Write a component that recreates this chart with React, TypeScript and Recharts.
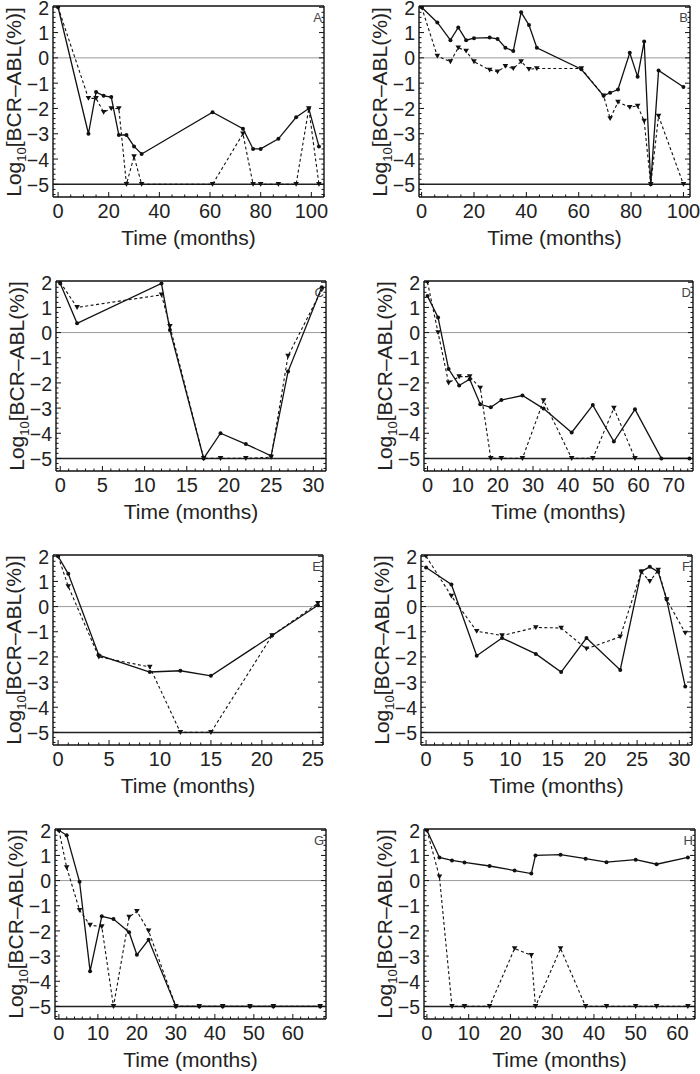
import React from "react";
import { LineChart, Line, XAxis, YAxis, ReferenceLine } from "recharts";

const FONT = "'Liberation Sans', Arial, Helvetica, sans-serif";

// shared y axis
const yDomain: [number, number] = [-5.5, 2.05];
const yLabels = [-5, -4, -3, -2, -1, 0, 1, 2];
const zeroLine = 0;
const floorLine = -5;

// A
const aMonths = [0, 12, 15, 18, 21, 24, 27, 30, 33, 61, 73, 77, 80, 87, 94, 99, 103];
const aSolid = [2, -3.0, -1.35, -1.5, -1.55, -3.05, -3.05, -3.5, -3.8, -2.15, -2.8, -3.6, -3.6, -3.2, -2.35, -2.0, -3.5];
const aDashed = [2, -1.6, -1.6, -2.15, -2.0, -2.0, -5, -3.9, -5, -5, -3.0, -5, -5, -5, -5, -2.0, -5];

// B
const bMonths = [0, 6, 11, 14, 17, 20, 26, 29, 32, 35, 38, 41, 44, 61, 69.5, 72, 75, 79.5, 82.5, 85, 87.5, 90.5, 100];
const bSolid = [2, 1.4, 0.7, 1.2, 0.7, 0.78, 0.8, 0.75, 0.4, 0.27, 1.8, 1.3, 0.4, -0.45, -1.5, -1.38, -1.25, 0.2, -0.75, 0.65, -5, -0.5, -1.15];
const bDashed = [2, 0.07, -0.15, 0.4, 0.27, -0.15, -0.48, -0.55, -0.33, -0.42, -0.15, -0.45, -0.42, -0.42, -1.5, -2.4, -1.75, -1.95, -1.9, -2.5, -5, -2.3, -5];

// C
const cMonths = [0, 2, 12, 13, 17, 19, 22, 25, 27, 31];
const cSolid = [1.95, 0.37, 1.95, 0.1, -5, -4.0, -4.43, -4.9, -1.55, 1.8];
const cDashed = [2, 1.0, 1.5, 0.25, -5, -5, -5, -4.95, -0.93, 1.7];

// D
const dMonths = [0, 3, 6, 9, 12, 15, 18, 21, 27, 33, 41, 47, 53, 59, 66.5, 74.5];
const dSolid = [1.45, 0.6, -1.45, -2.1, -1.85, -2.85, -2.97, -2.68, -2.5, -3.02, -3.97, -2.88, -4.33, -3.05, -5, -5];
const dDashedMonths = [0, 3, 6, 9, 12, 15, 18, 21, 27, 33, 41, 47, 53, 59];
const dDashed = [2, 0, -2, -1.75, -1.75, -2.2, -5, -5, -5, -2.7, -5, -5, -3.0, -5];

// E
const eMonths = [0, 1, 4, 9, 12, 15, 21, 25.5];
const eSolid = [2, 1.3, -1.93, -2.6, -2.55, -2.75, -1.15, 0.05];
const eDashed = [2, 0.8, -2.0, -2.4, -5, -5, -1.15, 0.13];

// F
const fMonths = [0, 3, 6, 9, 13, 16, 19, 23, 25.5, 26.5, 27.5, 28.5, 30.7];
const fSolid = [1.55, 0.88, -1.95, -1.25, -1.88, -2.6, -1.25, -2.52, 1.4, 1.58, 1.38, 0.28, -3.18];
const fDashed = [2, 0.42, -0.98, -1.15, -0.83, -0.85, -1.68, -1.2, 1.38, 1.0, 1.45, 0.28, -1.05];

// G
const gMonths = [0, 2, 5.3, 8, 11, 14, 18, 20, 23, 30, 36, 42, 49, 55, 67];
const gSolid = [2, 1.8, -0.05, -3.6, -1.42, -1.53, -2.05, -2.95, -2.35, -5, -5, -5, -5, -5, -5];
const gDashed = [2, 0.52, -1.18, -1.77, -1.83, -5, -1.45, -1.22, -2.0, -5, -5, -5, -5, -5, -5];

// H
const hMonths = [0, 3, 6, 9, 15, 21, 25, 26, 32, 38, 43, 50, 55, 62.5];
const hSolid = [2, 0.92, 0.8, 0.72, 0.58, 0.4, 0.28, 1.0, 1.03, 0.87, 0.73, 0.83, 0.65, 0.92];
const hDashed = [2, 0.15, -5, -5, -5, -2.7, -2.97, -5, -2.7, -5, -5, -5, -5, -5];

const ticks20 = [0, 20, 40, 60, 80, 100];
const ticks5_25 = [0, 5, 10, 15, 20, 25];
const ticks5_30 = [0, 5, 10, 15, 20, 25, 30];
const ticks10_60 = [0, 10, 20, 30, 40, 50, 60];
const ticks10_70 = [0, 10, 20, 30, 40, 50, 60, 70];

const isMajor = (majors: number[], v: number) => majors.some((m) => Math.abs(m - v) < 1e-6);

function stepTicks(domain: [number, number], step: number) {
  const out: number[] = [];
  const start = Math.ceil(domain[0] / step);
  const end = Math.floor(domain[1] / step);
  for (let i = start; i <= end; i++) out.push(Math.round(i * step * 1000) / 1000);
  return out;
}

const fmt = (v: number) => (v < 0 ? "\u2212" + Math.abs(v) : String(v));

const leftTick = (majors: number[]) => (p: any) => {
  const v = p.payload.value;
  const big = isMajor(majors, v);
  const ax = p.x + 4;
  return (
    <g>
      <line x1={ax} x2={ax + (big ? 5 : 2.5)} y1={p.y} y2={p.y} stroke="#111" strokeWidth={1} />
      {big && (
        <text x={p.x} y={p.y + 0.6} dy="0.36em" textAnchor="end" fontSize={19.5} fontFamily={FONT} fill="#222">
          {fmt(v)}
        </text>
      )}
    </g>
  );
};

const rightTick = (majors: number[]) => (p: any) => {
  const big = isMajor(majors, p.payload.value);
  return <line x1={p.x} x2={p.x - (big ? 5 : 2.5)} y1={p.y} y2={p.y} stroke="#111" strokeWidth={1} />;
};

const bottomTick = (majors: number[]) => (p: any) => {
  const v = p.payload.value;
  const big = isMajor(majors, v);
  const ay = p.y - 3;
  return (
    <g>
      <line x1={p.x} x2={p.x} y1={ay} y2={ay - (big ? 5 : 2.5)} stroke="#111" strokeWidth={1} />
      {big && (
        <text x={p.x} y={p.y} dy="0.88em" textAnchor="middle" fontSize={20} fontFamily={FONT} fill="#222">
          {fmt(v)}
        </text>
      )}
    </g>
  );
};

const topTick = (majors: number[]) => (p: any) => {
  const big = isMajor(majors, p.payload.value);
  return <line x1={p.x} x2={p.x} y1={p.y} y2={p.y + (big ? 5 : 2.5)} stroke="#111" strokeWidth={1} />;
};

const Tri = (p: any) => {
  if (p.cx == null || p.cy == null) return null;
  const { cx, cy } = p;
  return <path d={`M${cx - 2.8},${cy - 2.3}L${cx + 2.8},${cy - 2.3}L${cx},${cy + 2.5}Z`} fill="#111" />;
};

type PanelProps = {
  letter: string;
  months: number[];
  solid: number[];
  dashedMonths: number[];
  dashed: number[];
  xDomain: [number, number];
  xMajor: number[];
  xMinorStep: number;
  box: [number, number, number, number];
};

function Panel(p: PanelProps) {
  const [L, T, W, H] = p.box;
  const padL = 60;
  const padR = 16;
  const padT = 12;
  const padB = 30;
  const solidData = p.months.map((m, i) => ({ x: m, y: p.solid[i] }));
  const dashedData = p.dashedMonths.map((m, i) => ({ x: m, y: p.dashed[i] }));
  const xTicks = stepTicks(p.xDomain, p.xMinorStep);
  const yTicks = stepTicks([-5.4, 2], 0.2);
  const axisLine = { stroke: "#111", strokeWidth: 1.4 };
  return (
    <>
      <div style={{ position: "absolute", left: L - padL, top: T - padT }}>
        <LineChart
          width={W + padL + padR}
          height={H + padT + padB}
          margin={{ top: padT - 1, right: padR - 1, left: 0, bottom: 0 }}
        >
          <XAxis
            dataKey="x"
            type="number"
            domain={p.xDomain}
            allowDataOverflow
            ticks={xTicks}
            interval={0}
            tickSize={0}
            tickMargin={3}
            height={padB}
            tick={bottomTick(p.xMajor)}
            axisLine={axisLine}
          />
          <XAxis
            xAxisId="top"
            orientation="top"
            type="number"
            domain={p.xDomain}
            allowDataOverflow
            ticks={xTicks}
            interval={0}
            tickSize={0}
            tickMargin={0}
            height={1}
            tick={topTick(p.xMajor)}
            axisLine={axisLine}
          />
          <YAxis
            type="number"
            domain={yDomain}
            allowDataOverflow
            ticks={yTicks}
            interval={0}
            tickSize={0}
            tickMargin={4}
            width={padL}
            tick={leftTick(yLabels)}
            axisLine={axisLine}
          />
          <YAxis
            yAxisId="right"
            orientation="right"
            type="number"
            domain={yDomain}
            allowDataOverflow
            ticks={yTicks}
            interval={0}
            tickSize={0}
            tickMargin={0}
            width={1}
            tick={rightTick(yLabels)}
            axisLine={axisLine}
          />
          <ReferenceLine y={zeroLine} stroke="#9a9a9a" strokeWidth={1} />
          <ReferenceLine y={floorLine} stroke="#222" strokeWidth={1.5} />
          <Line
            data={dashedData}
            dataKey="y"
            stroke="#111"
            strokeWidth={1.1}
            strokeDasharray="3 2.5"
            dot={Tri}
            isAnimationActive={false}
          />
          <Line
            data={solidData}
            dataKey="y"
            stroke="#111"
            strokeWidth={1.3}
            dot={{ r: 2, fill: "#111", stroke: "none" }}
            isAnimationActive={false}
          />
        </LineChart>
      </div>
      <div
        style={{
          position: "absolute",
          left: L - 40,
          top: T + H / 2,
          transform: "translate(-50%, -50%) rotate(-90deg)",
          whiteSpace: "nowrap",
          fontFamily: FONT,
          fontSize: 21,
          color: "#222",
          lineHeight: 1,
        }}
      >
        Log<span style={{ fontSize: 13, position: "relative", top: 5 }}>10</span>[BCR–ABL(%)]
      </div>
      <div
        style={{
          position: "absolute",
          left: L + W / 2,
          top: T + H + 40,
          transform: "translate(-50%, -50%)",
          whiteSpace: "nowrap",
          fontFamily: FONT,
          fontSize: 21,
          color: "#222",
          lineHeight: 1,
        }}
      >
        Time (months)
      </div>
      <div
        style={{
          position: "absolute",
          left: L + W - 14,
          top: T + 5,
          width: 12,
          textAlign: "right",
          fontFamily: FONT,
          fontSize: 13,
          color: "#444",
          lineHeight: 1,
        }}
      >
        {p.letter}
      </div>
    </>
  );
}

export default function App() {
  return (
    <div style={{ position: "absolute", left: 0, top: 0, width: 700, height: 1074, background: "#fff" }}>
      <Panel letter="A" months={aMonths} solid={aSolid} dashedMonths={aMonths} dashed={aDashed}
        xDomain={[-2, 105]} xMajor={ticks20} xMinorStep={5} box={[53, 6, 271, 191]} />
      <Panel letter="B" months={bMonths} solid={bSolid} dashedMonths={bMonths} dashed={bDashed}
        xDomain={[-1, 102.5]} xMajor={ticks20} xMinorStep={5} box={[419, 6, 271, 191]} />
      <Panel letter="C" months={cMonths} solid={cSolid} dashedMonths={cMonths} dashed={cDashed}
        xDomain={[-0.5, 31.5]} xMajor={ticks5_30} xMinorStep={1} box={[56, 281, 270, 190]} />
      <Panel letter="D" months={dMonths} solid={dSolid} dashedMonths={dDashedMonths} dashed={dDashed}
        xDomain={[-1, 75.5]} xMajor={ticks10_70} xMinorStep={2} box={[424, 281, 269, 190]} />
      <Panel letter="E" months={eMonths} solid={eSolid} dashedMonths={eMonths} dashed={eDashed}
        xDomain={[-0.5, 26]} xMajor={ticks5_25} xMinorStep={1} box={[53, 555, 270, 190]} />
      <Panel letter="F" months={fMonths} solid={fSolid} dashedMonths={fMonths} dashed={fDashed}
        xDomain={[-0.6, 31.5]} xMajor={ticks5_30} xMinorStep={1} box={[421, 555, 271, 190]} />
      <Panel letter="G" months={gMonths} solid={gSolid} dashedMonths={gMonths} dashed={gDashed}
        xDomain={[-1, 68.5]} xMajor={ticks10_60} xMinorStep={2} box={[55, 829, 271, 190]} />
      <Panel letter="H" months={hMonths} solid={hSolid} dashedMonths={hMonths} dashed={hDashed}
        xDomain={[-0.7, 64.2]} xMajor={ticks10_60} xMinorStep={2} box={[424, 829, 271, 190]} />
    </div>
  );
}
